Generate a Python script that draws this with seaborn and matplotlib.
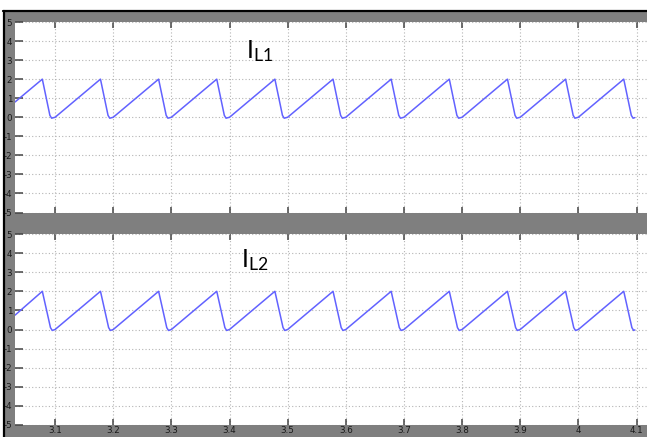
import matplotlib
matplotlib.use("Agg")
import matplotlib.pyplot as plt
import seaborn as sns
import pandas as pd

# Inductor current vertices (time in s, current in A)
il1_t = [3.031, 3.078, 3.091, 3.094, 3.100, 3.178, 3.191, 3.194, 3.200, 3.278,
         3.291, 3.294, 3.300, 3.378, 3.391, 3.394, 3.400, 3.478, 3.491, 3.494,
         3.500, 3.578, 3.591, 3.594, 3.600, 3.678, 3.691, 3.694, 3.700, 3.778,
         3.791, 3.794, 3.800, 3.878, 3.891, 3.894, 3.900, 3.978, 3.991, 3.994,
         4.000, 4.078, 4.091, 4.094, 4.097]
il1_i = [0.80, 2.00, 0.10, -0.05, 0.00, 2.00, 0.10, -0.05, 0.00, 2.00,
         0.10, -0.05, 0.00, 2.00, 0.10, -0.05, 0.00, 2.00, 0.10, -0.05,
         0.00, 2.00, 0.10, -0.05, 0.00, 2.00, 0.10, -0.05, 0.00, 2.00,
         0.10, -0.05, 0.00, 2.00, 0.10, -0.05, 0.00, 2.00, 0.10, -0.05,
         0.00, 2.00, 0.10, -0.05, -0.02]

il2_t = [3.031, 3.078, 3.092, 3.095, 3.100, 3.178, 3.192, 3.195, 3.200, 3.278,
         3.292, 3.295, 3.300, 3.378, 3.392, 3.395, 3.400, 3.478, 3.492, 3.495,
         3.500, 3.578, 3.592, 3.595, 3.600, 3.678, 3.692, 3.695, 3.700, 3.778,
         3.792, 3.795, 3.800, 3.878, 3.892, 3.895, 3.900, 3.978, 3.992, 3.995,
         4.000, 4.078, 4.092, 4.095, 4.097]
il2_i = [0.75, 2.00, 0.10, -0.05, 0.00, 2.00, 0.10, -0.05, 0.00, 2.00,
         0.10, -0.05, 0.00, 2.00, 0.10, -0.05, 0.00, 2.00, 0.10, -0.05,
         0.00, 2.00, 0.10, -0.05, 0.00, 2.00, 0.10, -0.05, 0.00, 2.00,
         0.10, -0.05, 0.00, 2.00, 0.10, -0.05, 0.00, 2.00, 0.10, -0.05,
         0.00, 2.00, 0.10, -0.05, -0.02]

x_ticks = [3.1, 3.2, 3.3, 3.4, 3.5, 3.6, 3.7, 3.8, 3.9, 4.0, 4.1]
x_tick_labels = ["3.1", "3.2", "3.3", "3.4", "3.5", "3.6", "3.7", "3.8", "3.9", "4", "4.1"]
y_ticks = [5, 4, 3, 2, 1, 0, -1, -2, -3, -4, -5]
y_tick_labels = ["5", "4", "3", "2", "1", "0", "-1", "-2", "-3", "-4", "-5"]
panel_labels = [("I", "L1"), ("I", "L2")]

sns.set_style("white")
plt.rcParams["font.family"] = ["DejaVu Sans"]

W, H = 647, 437
fig = plt.figure(figsize=(W / 100, H / 100), dpi=100)
fig.patch.set_facecolor("#7f7f7f")

# window frame: white strip on top and left, black rule
fig.add_artist(plt.Rectangle((0, 1 - 9.5 / H), 1, 9.5 / H, transform=fig.transFigure,
                             facecolor="white", edgecolor="none", zorder=0))
fig.add_artist(plt.Rectangle((0, 0), 3 / W, 1, transform=fig.transFigure,
                             facecolor="white", edgecolor="none", zorder=0))
fig.add_artist(plt.Line2D([3 / W, 1], [1 - 10.5 / H, 1 - 10.5 / H], transform=fig.transFigure,
                          color="black", lw=1.6))
fig.add_artist(plt.Line2D([4 / W, 4 / W], [0, 1 - 10.5 / H], transform=fig.transFigure,
                          color="black", lw=1.6))

left = 15 / W
width = 1 - left
ax1 = fig.add_axes([left, 1 - 212.5 / H, width, (212.5 - 22) / H])
ax2 = fig.add_axes([left, 1 - 425 / H, width, (425 - 234) / H])

series = [(ax1, il1_t, il1_i), (ax2, il2_t, il2_i)]
label_pos = [(246, 58), (241, 267)]

for k, (ax, t, i) in enumerate(series):
    df = pd.DataFrame({"t": t, "i": i})
    ax.set_facecolor("white")
    ax.grid(True, color="#b4b4b4", linestyle=(0, (1, 2)), linewidth=0.8)
    sns.lineplot(data=df, x="t", y="i", ax=ax, color="#6262ff", linewidth=1.1,
                 sort=False, estimator=None)
    ax.set_xlim(3.031, 4.118)
    ax.set_ylim(-5, 5)
    ax.set_xticks(x_ticks)
    ax.set_yticks(y_ticks)
    ax.set_yticklabels(y_tick_labels)
    ax.set_xlabel("")
    ax.set_ylabel("")
    for s in ax.spines.values():
        s.set_visible(False)
    ax.tick_params(axis="both", direction="in", color="#444444", width=1.1,
                   labelsize=6.3, labelcolor="#1a1a1a")
    ax.tick_params(axis="y", length=6, pad=2, left=True, right=False)
    ax.tick_params(axis="x", length=4, top=True, bottom=True, pad=1)
    if k == 0:
        ax.set_xticklabels([])
    else:
        ax.set_xticklabels(x_tick_labels)
    base, sub = panel_labels[k]
    px, py = label_pos[k]
    fig.text(px / W, 1 - py / H, r"$\mathregular{" + base + "_{" + sub + "}}$",
             fontsize=18, color="black", family="Lato")

fig.savefig("out.png", dpi=100, facecolor=fig.get_facecolor())
